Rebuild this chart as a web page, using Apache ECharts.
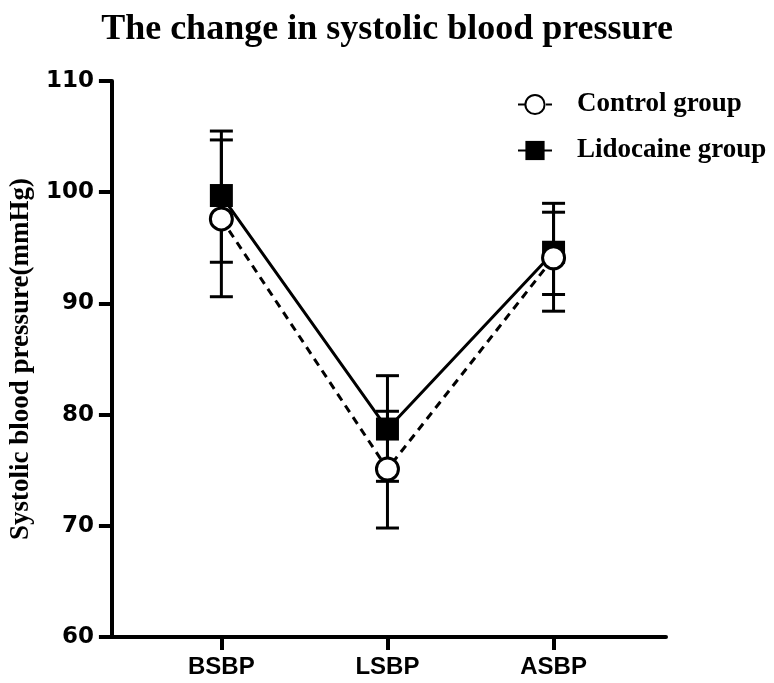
<!DOCTYPE html>
<html>
<head>
<meta charset="utf-8">
<script src="https://cdn.jsdelivr.net/npm/echarts@6/dist/echarts.min.js"></script>
<style>html,body{margin:0;padding:0;background:#fff}#c{width:774px;height:683px}</style>
</head>
<body>
<div id="c"></div>
<script>
const categories = ['BSBP', 'LSBP', 'ASBP'];
const controlMean = [97.6, 75.1, 94.1];
const controlUpper = [104.7, 80.3, 99.0];
const controlLower = [90.6, 69.8, 89.3];
const lidoMean = [99.7, 78.7, 94.6];
const lidoUpper = [105.5, 83.5, 98.2];
const lidoLower = [93.7, 74.0, 90.8];
const yTicks = [60, 70, 80, 90, 100, 110];

const chart = echarts.init(document.getElementById('c'));
const toPts = arr => arr.map((v, i) => [i, v]);
const errData = [];
categories.forEach((c, i) => {
  errData.push([i, controlLower[i], controlUpper[i]]);
  errData.push([i, lidoLower[i], lidoUpper[i]]);
});
const serif = 'Liberation Serif, Times New Roman, serif';
const sans = 'Liberation Sans, Arial, sans-serif';
chart.setOption({
  animation: false,
  title: {
    text: 'The change in systolic blood pressure',
    left: 'center', top: 7,
    textStyle: {fontFamily: serif, fontWeight: 'bold', fontSize: 36, color: '#000'}
  },
  legend: {
    orient: 'vertical', left: 512, top: 86, itemGap: 19,
    itemWidth: 34, itemHeight: 24,
    textStyle: {fontFamily: serif, fontWeight: 'bold', fontSize: 27, color: '#000', padding: [0, 0, 0, 20]},
    data: ['Control group', 'Lidocaine group']
  },
  grid: {left: 109, right: 108, top: 81, bottom: 46, containLabel: false},
  xAxis: {
    type: 'value', min: -0.659, max: 2.677,
    axisLine: {onZero: false, lineStyle: {color: '#000', width: 4}},
    axisTick: {show: true, length: 13, lineStyle: {color: '#000', width: 4}, customValues: [0, 1, 2]},
    axisLabel: {customValues: [0, 1, 2], formatter: v => categories[v], margin: 18,
      fontFamily: sans, fontWeight: 'bold', fontSize: 24, color: '#000'},
    splitLine: {show: false}
  },
  yAxis: {
    type: 'value', min: yTicks[0], max: yTicks[yTicks.length - 1], interval: 10,
    name: 'Systolic blood pressure(mmHg)', nameLocation: 'middle', nameGap: 65,
    nameTextStyle: {fontFamily: serif, fontWeight: 'bold', fontSize: 27, color: '#000'},
    axisLine: {show: true, onZero: false, lineStyle: {color: '#000', width: 4}},
    axisTick: {show: true, length: 13, lineStyle: {color: '#000', width: 4}},
    axisLabel: {margin: 18, fontFamily: 'DejaVu Sans, sans-serif', fontWeight: 'bold', fontSize: 23, color: '#000'},
    splitLine: {show: false}
  },
  series: [
    {
      type: 'custom', z: 1, silent: true,
      data: errData,
      renderItem: (params, api) => {
        const x = api.value(0);
        const lo = api.coord([x, api.value(1)]);
        const hi = api.coord([x, api.value(2)]);
        const hw = 11.5;
        const st = {stroke: '#000', lineWidth: 3};
        return {type: 'group', children: [
          {type: 'line', shape: {x1: lo[0], y1: lo[1], x2: hi[0], y2: hi[1]}, style: st},
          {type: 'line', shape: {x1: lo[0] - hw, y1: lo[1], x2: lo[0] + hw, y2: lo[1]}, style: st},
          {type: 'line', shape: {x1: hi[0] - hw, y1: hi[1], x2: hi[0] + hw, y2: hi[1]}, style: st}
        ]};
      }
    },
    {
      name: 'Lidocaine group', type: 'line', z: 3,
      data: toPts(lidoMean),
      symbol: 'rect', symbolSize: 23,
      itemStyle: {color: '#000', borderColor: '#000', borderWidth: 0},
      lineStyle: {color: '#000', width: 3}
    },
    {
      name: 'Control group', type: 'line', z: 4,
      data: toPts(controlMean),
      symbol: 'circle', symbolSize: 22,
      itemStyle: {color: '#fff', borderColor: '#000', borderWidth: 3},
      lineStyle: {color: '#000', width: 3, type: [8, 6]}
    }
  ]
});
</script>
</body>
</html>
